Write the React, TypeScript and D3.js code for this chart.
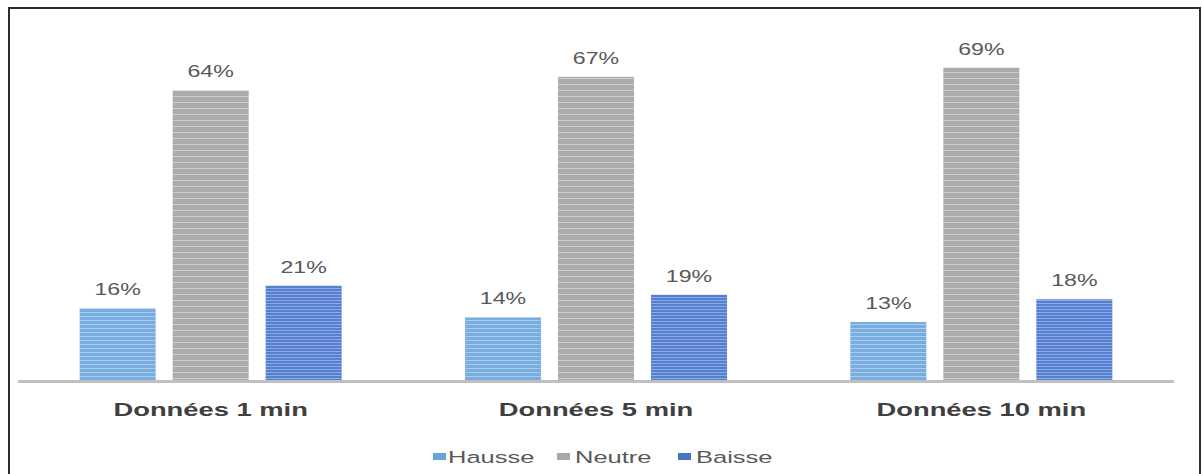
import React from "react";
import * as d3 from "d3";

const categories = ["Données 1 min", "Données 5 min", "Données 10 min"];
const seriesNames = ["Hausse", "Neutre", "Baisse"];
const hausse = [16, 14, 13];
const neutre = [64, 67, 69];
const baisse = [21, 19, 18];
const seriesValues = [hausse, neutre, baisse];

const W = 1202;
const H = 474;
const SX = 1.45;

const fills = [
  { base: "#79acdf", stripe: "#a9cbee", period: 4 },
  { base: "#ababab", stripe: "#cdcdcd", period: 6 },
  { base: "#5580cf", stripe: "#8ea9e3", period: 3 },
];
const legendColors = ["#6aa3db", "#a9a9a9", "#4a74c8"];

function SText(props: any) {
  const { x, y, sx = SX, children, ...rest } = props;
  return (
    <text transform={`translate(${x},${y}) scale(${sx},1)`} {...rest}>
      {children}
    </text>
  );
}

export default function App() {
  const x0 = d3.scaleBand<string>().domain(categories).range([18, 1174]);
  const x1 = d3
    .scaleBand<string>()
    .domain(seriesNames)
    .range([-139.5, 139.5])
    .paddingInner(0.1828)
    .paddingOuter(0.0914);
  const y = d3.scaleLinear().domain([0, 70]).range([381, 381 - 70 * 4.54]);

  const legendItems = [
    { sq: 433, tx: 448 },
    { sq: 557, tx: 575 },
    { sq: 678, tx: 696 },
  ];

  return (
    <svg
      width={W}
      height={H}
      style={{ position: "absolute", left: 0, top: 0, background: "#fff" }}
      fontFamily="'Liberation Sans', Arial, sans-serif"
    >
      <defs>
        {fills.map((f, i) => (
          <pattern
            key={i}
            id={`pat${i}`}
            patternUnits="userSpaceOnUse"
            width={8}
            height={f.period}
          >
            <rect width={8} height={f.period} fill={f.base} />
            <rect y={0} width={8} height={1} fill={f.stripe} />
          </pattern>
        ))}
      </defs>
      <rect x={9} y={8} width={1191} height={480} fill="#fff" stroke="#2e2e2e" strokeWidth={2} />

      {categories.map((c, ci) => {
        const cx = (x0(c) as number) + x0.bandwidth() / 2;
        return (
          <g key={c}>
            {seriesNames.map((s, si) => {
              const v = seriesValues[si][ci];
              const bx = cx + (x1(s) as number);
              const bw = x1.bandwidth();
              return (
                <g key={s}>
                  <rect
                    x={bx}
                    y={y(v)}
                    width={bw}
                    height={y(0) - y(v)}
                    fill={`url(#pat${si})`}
                  />
                  <SText
                    x={bx + bw / 2}
                    y={y(v) - 13}
                    textAnchor="middle"
                    fontSize={16}
                    fill="#595959"
                  >
                    {`${v}%`}
                  </SText>
                </g>
              );
            })}
            <SText
              x={cx}
              y={416}
              sx={1.52}
              textAnchor="middle"
              fontSize={18}
              fontWeight="bold"
              fill="#404040"
            >
              {c}
            </SText>
          </g>
        );
      })}

      <line x1={18} x2={1174} y1={381.5} y2={381.5} stroke="#bfbfbf" strokeWidth={3} />

      {seriesNames.map((s, i) => (
        <g key={s}>
          <rect x={legendItems[i].sq} y={453} width={13} height={7} fill={legendColors[i]} />
          <SText x={legendItems[i].tx} y={463} fontSize={17} sx={1.5} fill="#595959">
            {s}
          </SText>
        </g>
      ))}
    </svg>
  );
}
